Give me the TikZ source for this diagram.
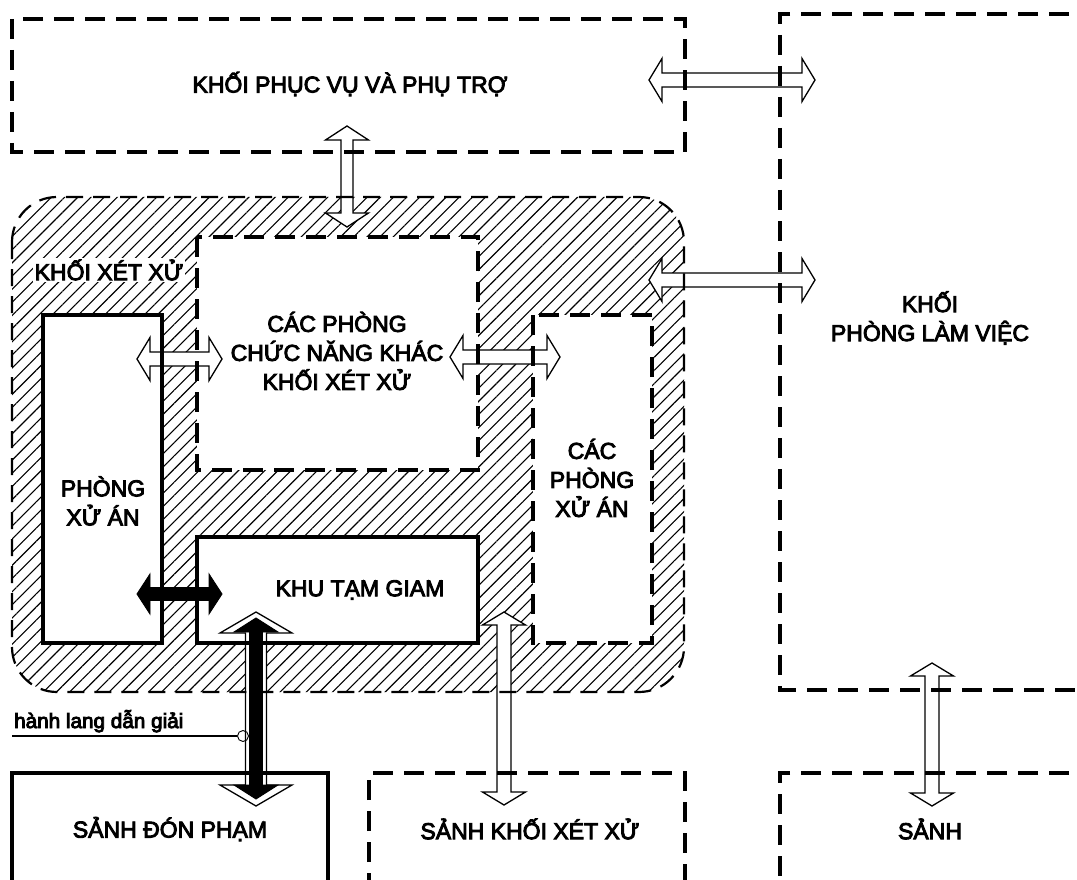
\documentclass[tikz,border=0pt]{standalone}
\usepackage{fontspec}
\setmainfont{Liberation Sans}
\usetikzlibrary{calc,patterns.meta}
\newcommand{\heavyink}{\special{pdf:literal direct 2 Tr 0.9 w}}

\tikzset{
 blk/.style={anchor=north west, inner sep=0pt, outer sep=0pt, fill=white},
 hatchzone/.style={anchor=north west, inner sep=0pt, outer sep=0pt, rounded corners=45pt,
   pattern={Lines[angle=45,distance=9.3pt,line width=1.1pt]}},
 dashthick/.style={line width=3.6pt, dash pattern=on 20pt off 11pt},
 solidthick/.style={line width=3.4pt, line join=miter},
 dashthin/.style={line width=2.2pt, dash pattern=on 17pt off 10pt},
 txt/.style={font=\fontsize{23}{29}\selectfont\heavyink, align=center, inner sep=0pt},
 harrow/.style={draw=black, line width=1.3pt, fill=white, line join=miter},
 barrow/.style={draw=black, line width=0.9pt, fill=black, line join=miter},
}

\newcommand{\dblarr}[6][]{%
\draw[#1] let \p1=(#2), \p2=(#3), \n1={atan2(\y2-\y1,\x2-\x1)} in
 (#2) -- ($(#2)+(\n1:#6)+(\n1+90:#5)$) -- ($(#2)+(\n1:#6)+(\n1+90:#4)$)
 -- ($(#3)+(\n1+180:#6)+(\n1+90:#4)$) -- ($(#3)+(\n1+180:#6)+(\n1+90:#5)$)
 -- (#3) -- ($(#3)+(\n1+180:#6)+(\n1-90:#5)$) -- ($(#3)+(\n1+180:#6)+(\n1-90:#4)$)
 -- ($(#2)+(\n1:#6)+(\n1-90:#4)$) -- ($(#2)+(\n1:#6)+(\n1-90:#5)$) -- cycle;}

\begin{document}
\begin{tikzpicture}[x=1pt,y=-1pt]
\useasboundingbox[fill=white] (0,0) rectangle (1077,880);

% hatched zone
\node[hatchzone, minimum width=672pt, minimum height=495pt] (H) at (12,197) {};

% white boxes
\node[blk, minimum width=673pt, minimum height=133pt] (T) at (12,19) {};
\node[blk, minimum width=320pt, minimum height=676pt] (R) at (780,14) {};
\node[blk, minimum width=281pt, minimum height=233pt] (CNK) at (197,237) {};
\node[blk, minimum width=119pt, minimum height=328pt] (CPXA) at (533,315) {};
\node[blk, minimum width=119pt, minimum height=328pt] (PXA) at (43,315) {};
\node[blk, minimum width=281pt, minimum height=106pt] (KTG) at (197,537) {};
\node[blk, minimum width=316pt, minimum height=120pt] (SDP) at (12,773) {};
\node[blk, minimum width=316pt, minimum height=120pt] (SKXX) at (369,773) {};
\node[blk, minimum width=320pt, minimum height=120pt] (SANH) at (780,773) {};

\node[txt, fill=white, inner sep=1.5pt, anchor=west] (lblKXX) at (33,270) {KHỐI XÉT XỬ};

% arrow end points
\coordinate (a1s) at (649,80);  \coordinate (a1e) at (815,80);
\coordinate (a2s) at (347,126); \coordinate (a2e) at (347,227);
\coordinate (a3s) at (649,280); \coordinate (a3e) at (815,280);
\coordinate (a4s) at (137,359); \coordinate (a4e) at (222,359);
\coordinate (a5s) at (450,357); \coordinate (a5e) at (560,357);
\coordinate (a6s) at (137,594); \coordinate (a6e) at (222,594);
\coordinate (a7s) at (256,612); \coordinate (a7e) at (256,806);
\coordinate (a7is) at (256,618); \coordinate (a7ie) at (256,799);
\coordinate (a8s) at (504,612); \coordinate (a8e) at (504,805);
\coordinate (a9s) at (932,663); \coordinate (a9e) at (932,806);

\dblarr[harrow]{a1s}{a1e}{7pt}{21.5pt}{13pt}
\dblarr[harrow]{a2s}{a2e}{6pt}{21.5pt}{14pt}
\dblarr[harrow]{a3s}{a3e}{7pt}{21.5pt}{13pt}
\dblarr[harrow]{a4s}{a4e}{7pt}{21.5pt}{13pt}
\dblarr[harrow]{a5s}{a5e}{7pt}{21.5pt}{13pt}
\dblarr[barrow]{a6s}{a6e}{6.5pt}{20pt}{13pt}
\dblarr[harrow]{a7s}{a7e}{10.5pt}{36pt}{21pt}
\dblarr[barrow]{a7is}{a7ie}{6.5pt}{22pt}{14pt}
\dblarr[harrow]{a8s}{a8e}{7pt}{21.5pt}{13pt}
\dblarr[harrow]{a9s}{a9e}{7pt}{21.5pt}{13pt}

% borders
\draw[dashthin, rounded corners=45pt] (H.north west) rectangle (H.south east);
\draw[dashthick] (T.north west) rectangle (T.south east);
\draw[dashthick] (R.north east) -- (R.north west) -- (R.south west) -- (R.south east);
\draw[dashthick] (CNK.north west) rectangle (CNK.south east);
\draw[dashthick] (CPXA.north west) rectangle (CPXA.south east);
\draw[solidthick] (PXA.north west) rectangle (PXA.south east);
\draw[solidthick] (KTG.north west) rectangle (KTG.south east);
\draw[solidthick] (SDP.south west) -- (SDP.north west) -- (SDP.north east) -- (SDP.south east);
\draw[dashthick] (SKXX.south west) -- (SKXX.north west) -- (SKXX.north east) -- (SKXX.south east);
\draw[dashthick] (SANH.north east) -- (SANH.north west) -- (SANH.south west);

% label line
\coordinate (lblL) at (12,736);
\node[circle, draw, line width=0.9pt, minimum size=11pt, inner sep=0pt] (circ) at (243,736) {};
\draw[line width=1.1pt] (lblL) -- (circ.west);
\node[font=\fontsize{20.7}{22}\selectfont\heavyink, anchor=base west, inner sep=0pt] (lblHL) at (14,728) {hành lang dẫn giải};

% texts
\node[txt] (tT) at (350,84) {KHỐI PHỤC VỤ VÀ PHỤ TRỢ};
\node[txt] (tR) at (930,318) {KHỐI\\PHÒNG LÀM VIỆC};
\node[txt] (tCNK) at (337,351) {CÁC PHÒNG\\CHỨC NĂNG KHÁC\\KHỐI XÉT XỬ};
\node[txt] (tCPXA) at (592,478) {CÁC\\PHÒNG\\XỬ ÁN};
\node[txt] (tPXA) at (103,501) {PHÒNG\\XỬ ÁN};
\node[txt] (tKTG) at (360,590) {KHU TẠM GIAM};
\node[txt] (tSDP) at (170,829) {SẢNH ĐÓN PHẠM};
\node[txt] (tSKXX) at (530,829) {SẢNH KHỐI XÉT XỬ};
\node[txt] (tSANH) at (930,829) {SẢNH};
\end{tikzpicture}
\end{document}
